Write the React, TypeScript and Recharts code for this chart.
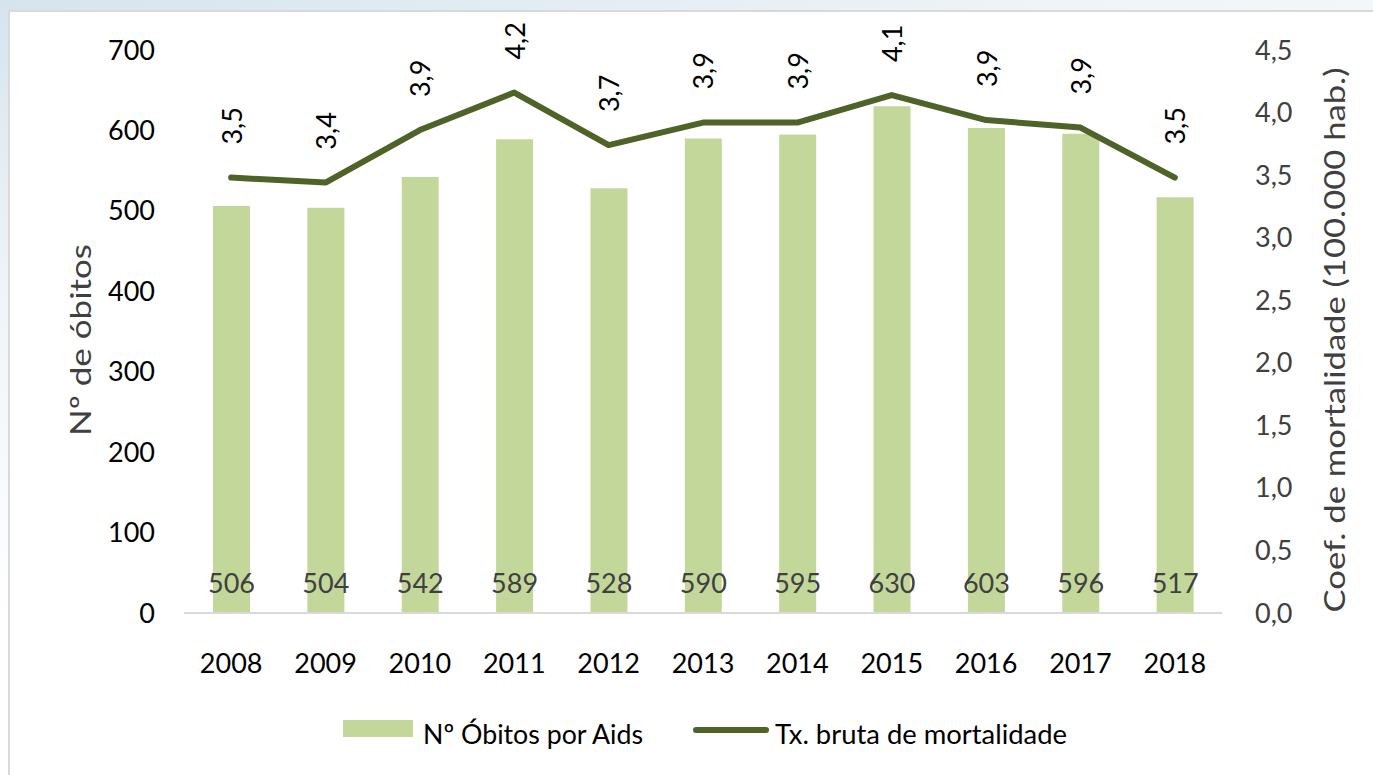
import { ComposedChart, Bar, Line, XAxis, YAxis, LabelList, Label } from "recharts";

const years = ["2008", "2009", "2010", "2011", "2012", "2013", "2014", "2015", "2016", "2017", "2018"];
const deaths = [506, 504, 542, 589, 528, 590, 595, 630, 603, 596, 517];
const rates = [3.48, 3.44, 3.86, 4.16, 3.74, 3.92, 3.92, 4.14, 3.94, 3.88, 3.48];
const leftTicks = [0, 100, 200, 300, 400, 500, 600, 700];
const rightTicks = [0, 0.5, 1, 1.5, 2, 2.5, 3, 3.5, 4, 4.5];

const data = years.map((year, i) => ({ year, deaths: deaths[i], rate: rates[i] }));

const FONT = "Lato, 'Open Sans', sans-serif";
const BAR = "#c4d79b";
const LINE = "#4f6228";

const comma = (v: number, d: number) => v.toFixed(d).replace(".", ",");

function BarValue(props: any) {
  const { x, y, width, height, value } = props;
  return (
    <text x={x + width / 2} y={y + height - 31} textAnchor="middle" dominantBaseline="central"
      fontSize={27} fontFamily={FONT} fill="#404040">
      {value}
    </text>
  );
}

function RateValue(props: any) {
  const { x, y, value } = props;
  const ty = y - 33;
  return (
    <text x={x} y={ty} transform={`rotate(-90 ${x} ${ty})`} textAnchor="start" dominantBaseline="central"
      fontSize={27} fontFamily={FONT} fill="#000">
      {comma(value, 1)}
    </text>
  );
}

export default function App() {
  return (
    <div style={{
      position: "absolute", left: 0, top: 0, width: 1373, height: 775, overflow: "hidden",
      background: "linear-gradient(165deg, #d6e4ee 0%, #eef4f8 25%, #ffffff 55%)",
    }}>
      <div style={{
        position: "absolute", left: 8, top: 10, width: 1420, height: 820,
        border: "2px solid #d9d9d9", background: "#fff",
      }} />
      <div style={{ position: "absolute", left: 0, top: 0 }}>
        <ComposedChart width={1373} height={775} data={data} margin={{ top: 50, right: 0, bottom: 0, left: 0 }}>
          <XAxis dataKey="year" height={162} tickLine={false} tickSize={0}
            axisLine={{ stroke: "#d9d9d9", strokeWidth: 2 }}
            tick={(p: any) => (
              <text x={p.x} y={p.y + 47} textAnchor="middle" dominantBaseline="central"
                fontSize={27} fontFamily={FONT} fill="#000">{p.payload.value}</text>
            )} />
          <YAxis yAxisId="left" width={184} domain={[0, 700]} ticks={leftTicks} axisLine={false}
            tickLine={false} tickSize={0} tickMargin={29}
            tick={{ fontSize: 27, fontFamily: FONT, fill: "#000" }}>
            <Label content={() => (
              <text x={79} y={340} transform="rotate(-90 79 340)" textAnchor="middle" dominantBaseline="central"
                fontSize={29} fontFamily={FONT} fill="#404040" textLength={192} lengthAdjust="spacingAndGlyphs">
                Nº de óbitos
              </text>
            )} />
          </YAxis>
          <YAxis yAxisId="right" orientation="right" width={151} domain={[0, 4.5]} ticks={rightTicks}
            axisLine={false} tickLine={false} tickSize={0} tickMargin={33}
            tickFormatter={(v: number) => comma(v, 1)}
            tick={{ fontSize: 27, fontFamily: FONT, fill: "#404040" }}>
            <Label content={() => (
              <text x={1334} y={340} transform="rotate(-90 1334 340)" textAnchor="middle" dominantBaseline="central"
                fontSize={28} fontFamily={FONT} fill="#404040" textLength={545} lengthAdjust="spacingAndGlyphs">
                Coef. de mortalidade (100.000 hab.)
              </text>
            )} />
          </YAxis>
          <Bar yAxisId="left" dataKey="deaths" fill={BAR} barSize={37} isAnimationActive={false}>
            <LabelList dataKey="deaths" content={BarValue} />
          </Bar>
          <Line yAxisId="right" dataKey="rate" stroke={LINE} strokeWidth={6} dot={false}
            strokeLinecap="round" strokeLinejoin="round" isAnimationActive={false}>
            <LabelList dataKey="rate" content={RateValue} />
          </Line>
        </ComposedChart>
      </div>
      <svg width={1373} height={775} style={{ position: "absolute", left: 0, top: 0, pointerEvents: "none" }}>
        <rect x={343} y={720} width={70} height={17} fill={BAR} />
        <text x={423} y={733} dominantBaseline="central" fontSize={27} fontFamily={FONT} fill="#000"
          textLength={220} lengthAdjust="spacingAndGlyphs">Nº Óbitos por Aids</text>
        <line x1={696} y1={730} x2={766} y2={730} stroke={LINE} strokeWidth={6} strokeLinecap="round" />
        <text x={775} y={733} dominantBaseline="central" fontSize={27} fontFamily={FONT} fill="#000"
          textLength={292} lengthAdjust="spacingAndGlyphs">Tx. bruta de mortalidade</text>
      </svg>
    </div>
  );
}
